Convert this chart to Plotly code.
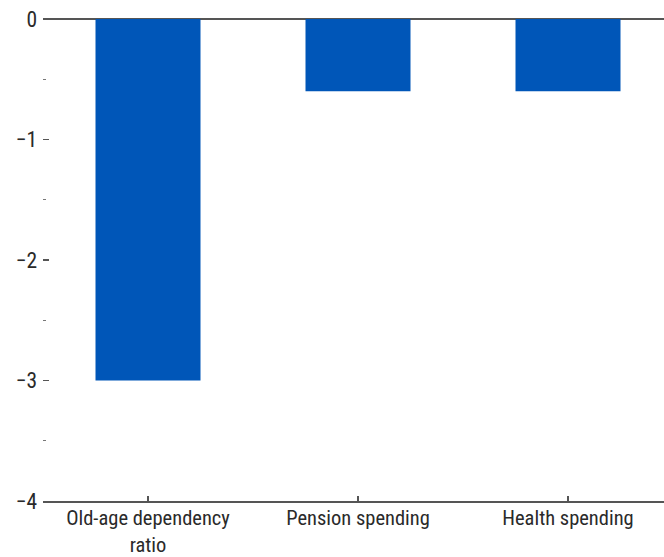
import plotly.graph_objects as go

categories = ["Old-age dependency<br>ratio", "Pension spending", "Health spending"]
values = [-3.0, -0.6, -0.6]
y_tickvals = [0, -1, -2, -3, -4]
y_ticktext = ["0", "\u22121", "\u22122", "\u22123", "\u22124"]
y_minor = [-0.5, -1.5, -2.5, -3.5]

bar_color = "#0056b8"
axis_color = "#555555"
font_family = "Liberation Sans Narrow, Arial Narrow, Roboto Condensed, sans-serif"

fig = go.Figure(go.Bar(
    x=categories, y=values, marker=dict(color=bar_color, line=dict(width=0)),
    width=0.5, hoverinfo="skip",
))

fig.update_layout(
    width=664, height=557,
    margin=dict(l=43, r=0, t=19, b=56),
    paper_bgcolor="white", plot_bgcolor="white",
    font=dict(family=font_family, size=20.5, color="#2a2a2a"),
    showlegend=False,
)
fig.update_xaxes(
    range=[-0.5, (664 - 43) / 210 - 0.5],
    showline=True, linecolor=axis_color, linewidth=1.5,
    ticks="inside", ticklen=5, tickcolor=axis_color, tickwidth=1.2,
    showgrid=False, zeroline=False, automargin=False,
    ticklabelstandoff=-2,
)
fig.update_yaxes(
    range=[-4, 0],
    tickvals=y_tickvals, ticktext=y_ticktext,
    tickfont=dict(size=21.5),
    ticks="inside", ticklen=6, tickcolor=axis_color, tickwidth=1.2,
    showline=False, showgrid=False, automargin=False,
    zeroline=True, zerolinecolor=axis_color, zerolinewidth=1.5,
    minor=dict(tickvals=y_minor, ticks="inside", ticklen=3, tickcolor="#777777", tickwidth=1, showgrid=False),
    ticklabelstandoff=5,
)

fig.write_html(
    "out.html",
    config={"displayModeBar": False, "staticPlot": True},
    post_script="document.body.style.margin='0px';document.body.style.overflow='hidden';",
)
